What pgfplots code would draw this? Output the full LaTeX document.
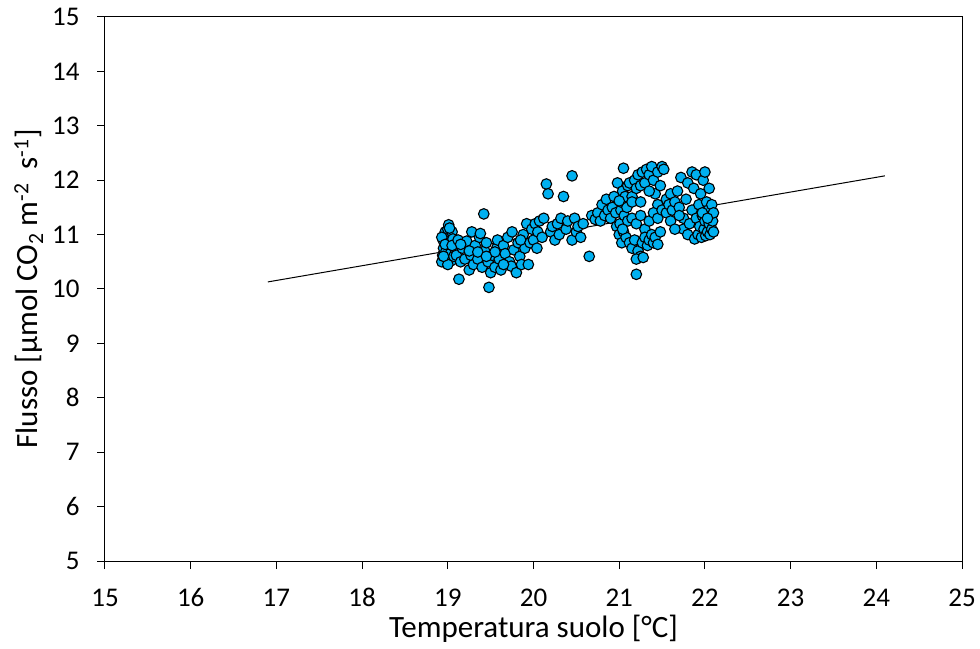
\documentclass[border=0pt]{standalone}
\usepackage{fontspec}
\setmainfont{Carlito}
\usepackage{pgfplots}
\pgfplotsset{compat=1.18}
\definecolor{pt}{HTML}{00B0F0}
\begin{document}
\begin{tikzpicture}
\useasboundingbox (-105pt,-87pt) rectangle (875pt,561pt);
\begin{axis}[
  scale only axis, width=857pt, height=544pt,
  xmin=15, xmax=25, ymin=5, ymax=15,
  xtick={15,...,25}, ytick={5,...,15},
  tick align=outside, xtick pos=bottom, ytick pos=left,
  major tick length=8pt,
  axis line style={line width=1pt}, tick style={line width=1pt, black},
  /pgf/number format/assume math mode=true,
  ticklabel style={font=\fontsize{27}{31}\selectfont},
  label style={font=\fontsize{31}{36}\selectfont},
  xlabel={Temperatura suolo [°C]},
  ylabel={Flusso [µmol CO\textsubscript{2} m\textsuperscript{-2}\ \ s\textsuperscript{-1}]},
  xticklabel style={anchor=base, yshift=-37pt},
  yticklabel style={anchor=east, xshift=-14pt},
  xlabel style={at={(axis description cs:0.5,-0.1415)}, anchor=base},
  ylabel style={at={(axis description cs:-0.089,0.5)}, anchor=center},
  clip=false,
]
\addplot[black, line width=1pt] coordinates {(16.9,10.13) (24.1,12.08)};
\addplot[only marks, mark=*, mark size=5.3pt, mark options={fill=pt, draw=black, line width=1.1pt}] coordinates {
(18.93,10.5)(18.94,10.62)(18.95,10.75)(18.95,10.88)(18.96,10.98)(18.97,11.05)(18.98,10.7)(18.99,10.58)(19.0,11.1)(19.01,11.18)(19.02,10.85)(19.03,10.65)(19.04,10.52)(19.05,11.05)(18.93,10.95)(18.97,10.82)(19.06,10.92)(19.07,10.6)(19.08,10.75)(19.0,10.45)(19.02,11.12)(18.95,10.6)(19.05,10.8)
(19.1,10.62)(19.12,10.9)(19.13,10.18)(19.15,10.5)(19.17,10.75)(19.2,10.55)(19.22,10.88)(19.25,10.35)(19.27,10.62)(19.28,11.05)(19.3,10.45)(19.32,10.8)(19.35,10.55)(19.37,10.95)(19.38,11.02)(19.4,10.4)(19.42,11.38)(19.43,10.7)(19.45,10.85)(19.47,10.5)(19.48,10.03)(19.5,10.3)(19.52,10.62)(19.55,10.4)(19.57,10.75)(19.58,10.9)(19.6,10.55)(19.62,10.35)(19.65,10.8)(19.67,10.65)(19.7,10.95)(19.72,10.5)(19.74,10.42)(19.75,11.05)(19.77,10.72)(19.8,10.3)(19.82,10.85)(19.84,10.6)(19.86,10.45)(19.88,11.0)(19.9,10.75)(19.92,11.2)(19.94,10.45)(19.25,10.7)(19.35,10.68)(19.55,10.68)(19.15,10.82)(19.45,10.6)(19.65,10.45)(19.85,10.9)
(19.96,10.85)(19.98,11.1)(20.0,10.9)(20.02,11.2)(20.04,10.75)(20.05,11.05)(20.07,11.25)(20.1,10.95)(20.12,11.3)(20.15,11.93)(20.17,11.75)(20.2,11.05)(20.22,11.15)(20.25,10.9)(20.28,11.2)(20.3,11.0)
(20.32,11.3)(20.35,11.7)(20.38,11.1)(20.4,11.25)(20.45,12.08)(20.45,10.9)(20.48,11.3)(20.5,11.05)(20.52,11.15)(20.55,10.95)(20.58,11.2)(20.65,10.6)
(20.68,11.35)(20.72,11.28)(20.75,11.4)(20.78,11.25)(20.8,11.55)(20.83,11.35)(20.85,11.65)(20.87,11.45)(20.9,11.3)(20.92,11.5)(20.94,11.7)(20.96,11.4)(20.98,11.95)(20.97,11.15)
(21.0,11.0)(21.01,11.2)(21.02,11.45)(21.02,11.6)(21.03,10.85)(21.04,11.8)(21.05,12.22)(21.05,11.05)(21.06,11.35)(21.07,11.7)(21.08,10.95)(21.09,11.5)(21.1,11.25)(21.1,11.9)(21.0,11.62)(21.04,11.1)
(21.12,11.95)(21.15,11.7)(21.18,12.0)(21.2,11.85)(21.22,12.1)(21.25,11.9)(21.27,12.15)(21.3,11.95)(21.32,12.2)(21.35,12.1)(21.38,12.25)(21.4,12.0)(21.42,11.75)(21.45,12.15)(21.48,11.9)(21.5,12.25)(21.52,12.2)(21.55,11.65)(21.15,11.6)(21.25,11.6)(21.35,11.8)(21.45,11.55)
(21.15,11.3)(21.2,11.2)(21.25,11.35)(21.3,11.1)(21.35,11.25)(21.4,11.4)(21.45,11.3)(21.5,11.45)
(21.12,10.85)(21.15,10.75)(21.18,10.9)(21.2,10.27)(21.22,10.7)(21.25,10.6)(21.27,10.85)(21.3,10.95)(21.33,10.8)(21.35,10.9)(21.38,11.0)(21.4,10.85)(21.42,10.95)(21.45,10.82)(21.48,11.05)(21.2,10.55)(21.28,10.58)
(21.55,11.4)(21.58,11.55)(21.6,11.75)(21.62,11.45)(21.65,11.6)(21.68,11.8)(21.7,11.5)(21.72,12.05)(21.75,11.3)(21.75,11.1)(21.78,11.65)(21.8,11.0)(21.8,11.95)(21.82,11.2)(21.85,11.45)(21.85,12.15)(21.87,11.85)(21.88,10.92)(21.9,11.3)(21.9,12.1)(21.6,11.25)(21.7,11.35)(21.65,11.1)
(21.92,11.0)(21.93,11.55)(21.94,11.15)(21.95,11.75)(21.96,10.95)(21.97,11.35)(21.98,12.0)(21.99,11.1)(22.0,12.15)(22.0,11.25)(22.01,10.98)(22.02,11.6)(22.03,11.05)(22.04,11.45)(22.05,11.2)(22.05,11.85)(22.06,11.0)(22.07,11.35)(22.08,11.1)(22.08,11.55)(22.09,11.25)(22.1,11.4)(22.1,11.05)(21.97,11.4)(22.03,11.3)
};
\end{axis}
\end{tikzpicture}
\end{document}
